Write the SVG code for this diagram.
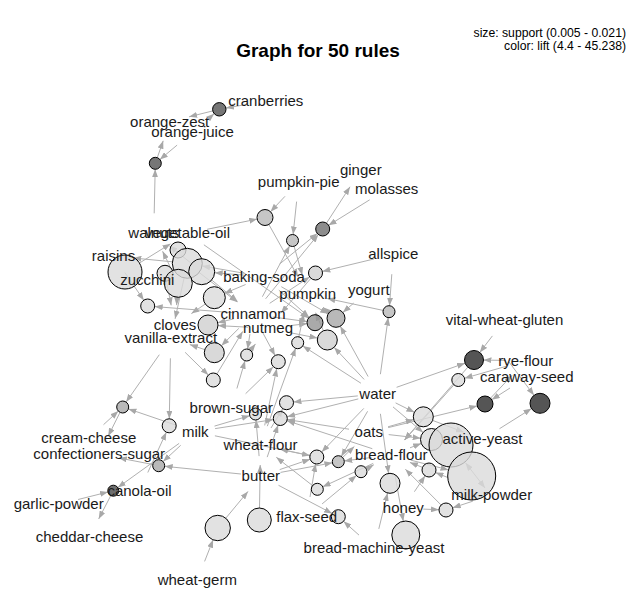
<svg xmlns="http://www.w3.org/2000/svg" width="636" height="590" viewBox="0 0 636 590">
<style>
.e{stroke:#b0b0b0;stroke-width:1;fill:none;marker-end:url(#a)}
.n{stroke:#000;stroke-width:1;fill-opacity:0.8}
.l{fill:#dbdbdb}.l2{fill:#cfcfcf}.m1{fill:#b8b8b8}.m2{fill:#a8a8a8}.m3{fill:#959595}
.d1{fill:#6f6f6f}.d2{fill:#545454}.d4{fill:#4a4a4a}.d3{fill:#2a2a2a}
.t{font-family:"Liberation Sans",Arial,sans-serif;font-size:15px;fill:#1a1a1a;text-anchor:middle}
.title{font-family:"Liberation Sans",Arial,sans-serif;font-size:19px;font-weight:bold;fill:#000;text-anchor:middle}
.lg{font-family:"Liberation Sans",Arial,sans-serif;font-size:12.2px;fill:#000;text-anchor:end}
</style>
<defs>
<marker id="a" viewBox="0 0 8 6" refX="8" refY="3" markerWidth="8" markerHeight="6" markerUnits="userSpaceOnUse" orient="auto"><path d="M0,0L8,3L0,6z" fill="#a8a8a8"/></marker>
</defs>
<rect width="636" height="590" fill="#fff"/>
<g id="edges">
<path class="e" d="M246.1 104.5L225.9 108.1"/>
<path class="e" d="M212.8 110.9L189.1 116.8"/>
<path class="e" d="M207.7 119.3L214.2 113.7"/>
<path class="e" d="M177.1 145.1L159.9 159.5"/>
<path class="e" d="M157.3 157.6L163.2 140.8"/>
<path class="e" d="M154.2 213.3L155.2 169.3"/>
<path class="e" d="M285 196.3L270.5 211.7"/>
<path class="e" d="M296.6 201.6L293.1 234.5"/>
<path class="e" d="M207.1 229.3L257.2 219.1"/>
<path class="e" d="M268.9 224.5L298 276.8"/>
<path class="e" d="M294.1 246.3L302.3 275.1"/>
<path class="e" d="M326.5 223.1L350 186.8"/>
<path class="e" d="M369.7 199.8L328.6 225.3"/>
<path class="e" d="M279.5 264.1L317.3 233.4"/>
<path class="e" d="M265.6 298.8L318.3 234.4"/>
<path class="e" d="M262.4 296.7L289.7 245.8"/>
<path class="e" d="M373.9 259L322.3 271.4"/>
<path class="e" d="M269.7 303.3L309.7 276.9"/>
<path class="e" d="M310.9 278.3L281 313.1"/>
<path class="e" d="M391.8 274.2L389.5 305.7"/>
<path class="e" d="M383.1 310.4L327.3 298.5"/>
<path class="e" d="M380.4 374.2L388.2 317.6"/>
<path class="e" d="M272.8 317L307.1 321.6"/>
<path class="e" d="M287.9 325.9L307.1 323.6"/>
<path class="e" d="M278.8 290.1L309.1 317.3"/>
<path class="e" d="M203.9 244.8L308.4 318.1"/>
<path class="e" d="M281.3 286.7L328.2 313.8"/>
<path class="e" d="M368.1 376.5L340.3 326.2"/>
<path class="e" d="M353.7 303.1L342.8 312.4"/>
<path class="e" d="M330.5 313.7L323 307.2"/>
<path class="e" d="M364.1 379.4L334.1 347.3"/>
<path class="e" d="M360.9 383.2L302.8 345.9"/>
<path class="e" d="M287.6 332.2L317.5 338.1"/>
<path class="e" d="M323.4 330.8L315.6 312.7"/>
<path class="e" d="M298.9 336.8L303.7 313.9"/>
<path class="e" d="M199.2 272.5L237.2 302"/>
<path class="e" d="M211.7 280L237.6 301.5"/>
<path class="e" d="M244.3 273.3L202.1 265.9"/>
<path class="e" d="M244.1 275.1L214.7 272.7"/>
<path class="e" d="M245.6 284.5L224.4 293.4"/>
<path class="e" d="M177.2 295.3L176.6 305.1"/>
<path class="e" d="M205.3 304L191.4 313.6"/>
<path class="e" d="M184.1 278L175.1 318.8"/>
<path class="e" d="M172.4 261.8L133.4 258"/>
<path class="e" d="M191.6 263.6L169.4 245.8"/>
<path class="e" d="M172.1 270.7L162.6 251.3"/>
<path class="e" d="M139.5 263L170.5 243.8"/>
<path class="e" d="M124.8 272.5L143.8 300.2"/>
<path class="e" d="M233.1 312.7L154.7 306.6"/>
<path class="e" d="M166.5 281.2L171.2 305.4"/>
<path class="e" d="M233.6 318.9L217.7 322.7"/>
<path class="e" d="M248 327.2L218 325.6"/>
<path class="e" d="M238.8 328.4L221.4 345.7"/>
<path class="e" d="M204.8 349.6L189.8 344.6"/>
<path class="e" d="M185.1 352.3L208.3 375.1"/>
<path class="e" d="M216.9 374L242.7 331.4"/>
<path class="e" d="M249.4 351.6L255.5 343.9"/>
<path class="e" d="M249.9 334.1L247.6 349.1"/>
<path class="e" d="M236.9 388.5L245 360.8"/>
<path class="e" d="M245.6 393.7L273.3 366.8"/>
<path class="e" d="M262.4 332L275 355.5"/>
<path class="e" d="M264.7 425.4L276.8 368.5"/>
<path class="e" d="M267.3 426.2L295.6 348.3"/>
<path class="e" d="M159.3 354.7L126.1 402.1"/>
<path class="e" d="M170.4 358.3L169.3 418.8"/>
<path class="e" d="M176.4 425.3L128.4 408.9"/>
<path class="e" d="M103.5 424.7L118.3 411.1"/>
<path class="e" d="M120 412.4L108.2 436.1"/>
<path class="e" d="M147.8 472.5L166.3 432.2"/>
<path class="e" d="M240.9 474L164.7 466.3"/>
<path class="e" d="M180.7 445.3L163.1 461.6"/>
<path class="e" d="M152.8 464.5L118.8 457.9"/>
<path class="e" d="M179.1 443.4L117.8 487.5"/>
<path class="e" d="M78.1 499.5L108 492"/>
<path class="e" d="M110.8 495.6L98.7 518.9"/>
<path class="e" d="M204.6 561.4L213.1 539.8"/>
<path class="e" d="M225.8 518.2L248 491.4"/>
<path class="e" d="M259.5 508L260.2 465"/>
<path class="e" d="M259.1 456.1L256 420"/>
<path class="e" d="M267.2 457.1L278.1 425.1"/>
<path class="e" d="M214.5 426.1L249.7 415.7"/>
<path class="e" d="M214.9 435.8L309.9 455.6"/>
<path class="e" d="M215.1 428.6L273.4 419.6"/>
<path class="e" d="M357.8 395.9L293.5 402"/>
<path class="e" d="M358.3 398.9L287.1 416.8"/>
<path class="e" d="M349 429.2L287.2 419.6"/>
<path class="e" d="M372.3 448.7L287 420.7"/>
<path class="e" d="M271 428L282.8 408.7"/>
<path class="e" d="M363.8 408.4L321.7 452"/>
<path class="e" d="M367.6 411.3L341.3 456.5"/>
<path class="e" d="M380.4 413.8L388.6 473.4"/>
<path class="e" d="M395.6 402.9L414.4 412.3"/>
<path class="e" d="M393 406.9L423.1 432.4"/>
<path class="e" d="M396.6 387.3L465 363.2"/>
<path class="e" d="M467.8 367.2L404.4 439.9"/>
<path class="e" d="M505.8 360.4L483.5 360.1"/>
<path class="e" d="M492.4 335.9L479.8 352.4"/>
<path class="e" d="M506.6 366.2L464.6 378.2"/>
<path class="e" d="M454 384.8L404.6 440.1"/>
<path class="e" d="M510 388L491.7 399.7"/>
<path class="e" d="M388.2 427.6L477.2 405.9"/>
<path class="e" d="M490.5 398.2L512.1 375.3"/>
<path class="e" d="M499.5 428.7L531.5 408.6"/>
<path class="e" d="M509 362L534 395.3"/>
<path class="e" d="M388 426.8L413.7 419.5"/>
<path class="e" d="M388.7 434.6L420.6 438.2"/>
<path class="e" d="M410 447.8L421.2 443.5"/>
<path class="e" d="M422.5 467.4L409.9 462.4"/>
<path class="e" d="M414.4 491.7L425.1 475.8"/>
<path class="e" d="M447.8 477.5L435.5 472.6"/>
<path class="e" d="M423.3 509.1L439 509.7"/>
<path class="e" d="M472.8 501.2L452.7 507.8"/>
<path class="e" d="M441.1 505L405.4 469.2"/>
<path class="e" d="M410.6 460.1L448.5 469.9"/>
<path class="e" d="M475 475L465.5 462.8"/>
<path class="e" d="M475 475L485 488"/>
<path class="e" d="M394.9 474.7L403.3 521.2"/>
<path class="e" d="M378.8 528.9L387.6 493"/>
<path class="e" d="M322.1 503.9L356.4 475.5"/>
<path class="e" d="M365.3 469.8L373.8 464.7"/>
<path class="e" d="M373.2 463.4L322.7 486.8"/>
<path class="e" d="M312.6 485.6L276.3 457.3"/>
<path class="e" d="M310 497L315.6 463.9"/>
<path class="e" d="M310 455.5L280.1 449.2"/>
<path class="e" d="M371.5 457.5L344.3 460.9"/>
<path class="e" d="M280.5 472.4L332.4 462.8"/>
<path class="e" d="M342.6 457.5L354.4 446.4"/>
<path class="e" d="M279.7 469.6L310.2 459.2"/>
<path class="e" d="M278.5 485.3L332.1 513.4"/>
<path class="e" d="M359 535.1L343.5 521.3"/>
<path class="e" d="M432.6 420.4L463.8 432.2"/>
</g>
<g id="rules">
<g id="r1"><circle class="n d2" cx="219.3" cy="109.3" r="6.7"/></g>
<g id="r2"><circle class="n d2" cx="155.3" cy="163.3" r="6"/></g>
<g id="r3"><circle class="n m1" cx="265" cy="217.5" r="8"/></g>
<g id="r4"><circle class="n m1" cx="292.5" cy="240.5" r="6"/></g>
<g id="r5"><circle class="n d1" cx="322.7" cy="229" r="7"/></g>
<g id="r6"><circle class="n l2" cx="315.5" cy="273" r="7"/></g>
<g id="r7"><circle class="n m1" cx="389" cy="311.7" r="6"/></g>
<g id="r8"><circle class="n l" cx="125" cy="272" r="17"/></g>
<g id="r9"><circle class="n l" cx="178" cy="250" r="8"/></g>
<g id="r10"><circle class="n l" cx="187.3" cy="263.3" r="15"/></g>
<g id="r11"><circle class="n l" cx="201.7" cy="271.7" r="13"/></g>
<g id="r12"><circle class="n l" cx="165" cy="273.3" r="8"/></g>
<g id="r13"><circle class="n l" cx="178.3" cy="283.3" r="14"/></g>
<g id="r14"><circle class="n l" cx="214.3" cy="297.7" r="11"/></g>
<g id="r15"><circle class="n l" cx="147.7" cy="306" r="7"/></g>
<g id="r16"><circle class="n l2" cx="208" cy="325" r="10"/></g>
<g id="r17"><circle class="n l2" cx="214.3" cy="352.7" r="10"/></g>
<g id="r18"><circle class="n l" cx="246.7" cy="355" r="6"/></g>
<g id="r19"><circle class="n l" cx="213.3" cy="380" r="7"/></g>
<g id="r20"><circle class="n l" cx="278.3" cy="361.7" r="7"/></g>
<g id="r21"><circle class="n l" cx="297.7" cy="342.7" r="6"/></g>
<g id="r22"><circle class="n m3" cx="315" cy="322.7" r="8"/></g>
<g id="r23"><circle class="n m2" cx="336" cy="318.3" r="9"/></g>
<g id="r24"><circle class="n l2" cx="327.3" cy="340" r="10"/></g>
<g id="r25"><circle class="n l" cx="286.5" cy="402.7" r="7"/></g>
<g id="r26"><circle class="n l" cx="255.5" cy="414" r="6"/></g>
<g id="r27"><circle class="n l" cx="280.3" cy="418.5" r="7"/></g>
<g id="r28"><circle class="n m2" cx="122.7" cy="407" r="6"/></g>
<g id="r29"><circle class="n l" cx="169.2" cy="425.8" r="7"/></g>
<g id="r30"><circle class="n m2" cx="158.7" cy="465.7" r="6"/></g>
<g id="r31"><circle class="n d4" cx="113.3" cy="490.7" r="5.5"/></g>
<g id="r32"><circle class="n l" cx="217.7" cy="528" r="12.7"/></g>
<g id="r33"><circle class="n l" cx="259.3" cy="520" r="12"/></g>
<g id="r34"><circle class="n l" cx="316.8" cy="457" r="7"/></g>
<g id="r35"><circle class="n m1" cx="338.3" cy="461.7" r="6"/></g>
<g id="r36"><circle class="n l" cx="361" cy="471.7" r="6"/></g>
<g id="r37"><circle class="n l" cx="390" cy="483.3" r="10"/></g>
<g id="r38"><circle class="n l" cx="317.3" cy="489.3" r="6"/></g>
<g id="r39"><circle class="n l" cx="338.3" cy="516.7" r="7"/></g>
<g id="r40"><circle class="n l" cx="405.8" cy="535" r="14"/></g>
<g id="r41"><circle class="n l" cx="423.3" cy="416.8" r="10"/></g>
<g id="r42"><circle class="n l" cx="431.5" cy="439.5" r="11"/></g>
<g id="r43"><circle class="n l" cx="451" cy="445" r="22"/></g>
<g id="r44"><circle class="n l" cx="471.7" cy="476" r="24"/></g>
<g id="r45"><circle class="n l" cx="429" cy="470" r="7"/></g>
<g id="r46"><circle class="n l" cx="446" cy="510" r="7"/></g>
<g id="r47"><circle class="n d3" cx="474" cy="360" r="9.5"/></g>
<g id="r48"><circle class="n l" cx="458.3" cy="380" r="6.5"/></g>
<g id="r49"><circle class="n d3" cx="485" cy="404" r="8"/></g>
<g id="r50"><circle class="n d3" cx="540" cy="403.3" r="10"/></g>
</g>
<g id="items">
<g id="i-cranberries"><text class="t" x="265.8" y="106">cranberries</text></g>
<g id="i-orange-zest"><text class="t" x="169.7" y="126.7">orange-zest</text></g>
<g id="i-orange-juice"><text class="t" x="192.5" y="137.3">orange-juice</text></g>
<g id="i-pumpkin-pie"><text class="t" x="298.7" y="186.7">pumpkin-pie</text></g>
<g id="i-ginger"><text class="t" x="360.8" y="175">ginger</text></g>
<g id="i-molasses"><text class="t" x="386.7" y="194.3">molasses</text></g>
<g id="i-walnuts"><text class="t" x="153.8" y="238.3">walnuts</text></g>
<g id="i-vegetable-oil"><text class="t" x="187.5" y="238.3">vegetable-oil</text></g>
<g id="i-raisins"><text class="t" x="113.5" y="261">raisins</text></g>
<g id="i-allspice"><text class="t" x="393.3" y="259.3">allspice</text></g>
<g id="i-zucchini"><text class="t" x="147.3" y="285">zucchini</text></g>
<g id="i-baking-soda"><text class="t" x="264" y="281.7">baking-soda</text></g>
<g id="i-pumpkin"><text class="t" x="307.7" y="299.3">pumpkin</text></g>
<g id="i-yogurt"><text class="t" x="368.8" y="295">yogurt</text></g>
<g id="i-cinnamon"><text class="t" x="253" y="319.3">cinnamon</text></g>
<g id="i-nutmeg"><text class="t" x="268" y="333.3">nutmeg</text></g>
<g id="i-cloves"><text class="t" x="175" y="330">cloves</text></g>
<g id="i-vanilla-extract"><text class="t" x="170.8" y="343.3">vanilla-extract</text></g>
<g id="i-vital-wheat-gluten"><text class="t" x="504.5" y="325">vital-wheat-gluten</text></g>
<g id="i-rye-flour"><text class="t" x="525.8" y="365.7">rye-flour</text></g>
<g id="i-caraway-seed"><text class="t" x="526.8" y="382.3">caraway-seed</text></g>
<g id="i-water"><text class="t" x="377.7" y="399">water</text></g>
<g id="i-brown-sugar"><text class="t" x="231.3" y="412.7">brown-sugar</text></g>
<g id="i-milk"><text class="t" x="195.3" y="436.7">milk</text></g>
<g id="i-oats"><text class="t" x="368.8" y="437.3">oats</text></g>
<g id="i-cream-cheese"><text class="t" x="88.8" y="443.3">cream-cheese</text></g>
<g id="i-active-yeast"><text class="t" x="482.5" y="444.3">active-yeast</text></g>
<g id="i-wheat-flour"><text class="t" x="260.5" y="450">wheat-flour</text></g>
<g id="i-confectioners-sugar"><text class="t" x="99.2" y="459">confectioners-sugar</text></g>
<g id="i-bread-flour"><text class="t" x="391.3" y="460">bread-flour</text></g>
<g id="i-canola-oil"><text class="t" x="139.5" y="495.7">canola-oil</text></g>
<g id="i-butter"><text class="t" x="260.8" y="481">butter</text></g>
<g id="i-garlic-powder"><text class="t" x="58.7" y="509.3">garlic-powder</text></g>
<g id="i-milk-powder"><text class="t" x="491.8" y="500">milk-powder</text></g>
<g id="i-honey"><text class="t" x="403.3" y="513.3">honey</text></g>
<g id="i-flax-seed"><text class="t" x="306.7" y="521.7">flax-seed</text></g>
<g id="i-cheddar-cheese"><text class="t" x="89.5" y="541.7">cheddar-cheese</text></g>
<g id="i-bread-machine-yeast"><text class="t" x="374" y="553.3">bread-machine-yeast</text></g>
<g id="i-wheat-germ"><text class="t" x="197.3" y="585">wheat-germ</text></g>
</g>
<text class="title" x="318" y="56.5">Graph for 50 rules</text>
<text class="lg" x="626" y="37">size: support (0.005 - 0.021)</text>
<text class="lg" x="626" y="50">color: lift (4.4 - 45.238)</text>
</svg>
